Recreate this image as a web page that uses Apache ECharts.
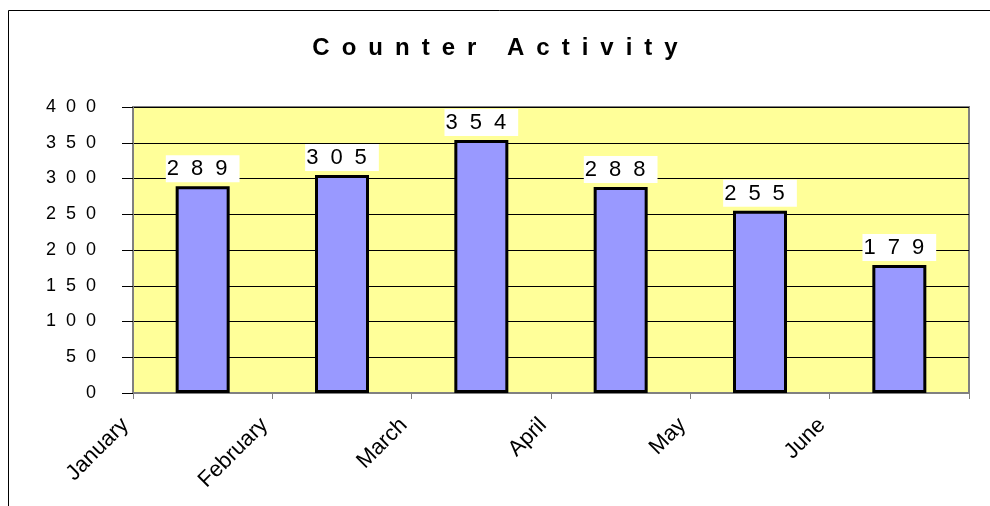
<!DOCTYPE html>
<html>
<head>
<meta charset="utf-8">
<script src="https://cdn.jsdelivr.net/npm/echarts@6/dist/echarts.min.js"></script>
<style>html,body{margin:0;padding:0;background:#fff;}#c{width:990px;height:506px;}</style>
</head>
<body>
<div id="c"></div>
<script>
var titleText = 'Counter Activity';
var months = ['January', 'February', 'March', 'April', 'May', 'June'];
var counts = [289, 305, 354, 288, 255, 179];
var yMin = 0, yMax = 400, yStep = 50;

function spaced(s, gap) {
  return String(s).split('').join(gap);
}
function richLetters(s, tag) {
  return String(s).split('').map(function (ch) { return '{' + tag + '|' + ch + '}'; }).join('');
}

var chart = echarts.init(document.getElementById('c'));
chart.setOption({
  animation: false,
  backgroundColor: '#ffffff',
  title: {
    text: richLetters(titleText, 'l'),
    left: 'center',
    top: 31,
    textStyle: {
      fontFamily: 'Liberation Sans', fontWeight: 'bold', fontSize: 24, color: '#000',
      rich: { l: { fontFamily: 'Liberation Sans', fontWeight: 'bold', fontSize: 24, color: '#000', padding: [0, 6, 0, 6] } }
    }
  },
  graphic: [{
    type: 'rect', silent: true, z: -1,
    shape: { x: 8.5, y: 10.5, width: 1100, height: 600 },
    style: { fill: 'none', stroke: '#000', lineWidth: 1 }
  }],
  grid: {
    left: 133, top: 107, right: 21, bottom: 113,
    show: true, backgroundColor: '#FFFF99', borderColor: '#808080', borderWidth: 2
  },
  xAxis: [{
    type: 'category', data: months, boundaryGap: true,
    axisLine: { show: true, lineStyle: { color: '#808080', width: 2 } },
    axisTick: { show: true, interval: 0, length: 6, lineStyle: { color: '#808080', width: 1 } },
    axisLabel: { show: false },
    splitLine: { show: false }
  }, {
    type: 'category', data: months.concat(['']), boundaryGap: false, position: 'bottom',
    axisLine: { show: false }, axisTick: { show: false }, splitLine: { show: false },
    axisLabel: {
      show: true, interval: 0, rotate: 45, margin: 21,
      align: 'right', verticalAlign: 'middle', padding: [0, 11, 0, 0],
      fontFamily: 'Liberation Sans', fontSize: 22, color: '#000'
    }
  }],
  yAxis: {
    type: 'value', min: yMin, max: yMax, interval: yStep,
    axisLine: { show: true, lineStyle: { color: '#808080', width: 2 } },
    axisTick: { show: true, length: 11, lineStyle: { color: '#000', width: 1 } },
    axisLabel: {
      margin: 37, fontFamily: 'Liberation Sans', fontSize: 18, color: '#000',
      formatter: function (v) { return spaced(v, '  '); }
    },
    splitLine: { show: true, lineStyle: { color: '#000', width: 1 } }
  },
  series: [{
    type: 'bar', xAxisIndex: 0, yAxisIndex: 0, data: counts, barWidth: 54,
    itemStyle: { color: '#9999FF', borderColor: '#000', borderWidth: 3 },
    label: {
      show: true, position: 'top', distance: 4,
      fontFamily: 'Liberation Sans', fontSize: 22, color: '#000',
      backgroundColor: '#fff', padding: [3, 0, 2, 1],
      formatter: function (p) { return richLetters(p.value, 'd'); },
      rich: { d: { fontFamily: 'Liberation Sans', fontSize: 22, color: '#000', padding: [0, 12, 0, 0] } }
    }
  }]
});
</script>
</body>
</html>
